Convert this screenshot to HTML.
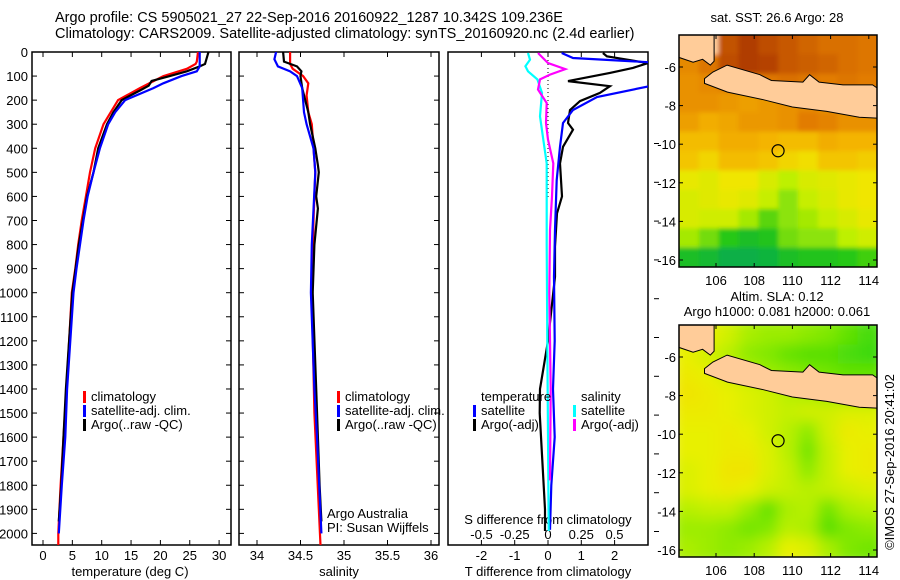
<!DOCTYPE html>
<html><head><meta charset="utf-8"><style>
html,body{margin:0;padding:0;background:#fff;}
svg{display:block;font-family:"Liberation Sans",sans-serif;}
text{font-size:13px;fill:#000;}
.ttl{font-size:14.5px;}
</style></head><body>
<svg id="fig" xmlns="http://www.w3.org/2000/svg" width="900" height="580" viewBox="0 0 900 580">
<defs>
<clipPath id="c1"><rect x="32" y="52" width="199" height="493"/></clipPath>
<clipPath id="c2"><rect x="239" y="52" width="200" height="493"/></clipPath>
<clipPath id="c3"><rect x="448" y="52" width="200" height="493"/></clipPath>
<clipPath id="cm1"><rect x="679" y="35" width="198" height="232"/></clipPath>
<clipPath id="cm2"><rect x="679" y="325" width="198" height="232"/></clipPath>
<filter id="blur" x="-5%" y="-5%" width="110%" height="110%"><feGaussianBlur stdDeviation="7"/></filter>
<filter id="blur1" x="-5%" y="-5%" width="110%" height="110%"><feGaussianBlur stdDeviation="2"/></filter>
</defs>
<text class="ttl" x="55" y="22">Argo profile: CS 5905021_27 22-Sep-2016 20160922_1287 10.342S 109.236E</text>
<text class="ttl" x="55" y="38">Climatology: CARS2009. Satellite-adjusted climatology: synTS_20160920.nc (2.4d earlier)</text>
<text x="777" y="22" text-anchor="middle">sat. SST: 26.6 Argo: 28</text>
<text x="777" y="301" text-anchor="middle">Altim. SLA: 0.12</text>
<text x="777" y="316" text-anchor="middle">Argo h1000: 0.081 h2000: 0.061</text>
<text x="0" y="0" transform="translate(894,462) rotate(-90)" text-anchor="middle">©IMOS 27-Sep-2016 20:41:02</text>
<g id="g1"></g><g id="g2"></g><g id="g3"></g><g id="gm1"></g><g id="gm2"></g>
</svg>
<script>
// ---------- data ----------
const tempDepth = [0,40,50,70,100,150,200,300,400,500,600,700,800,900,1000,1400,1600,1800,2000,2050];
const tempClim  = [26.4,26.2,26,24.5,20.5,16.5,12.8,10.3,8.9,8,7.3,6.6,6,5.5,4.9,4.0,3.5,3.0,2.6,2.6];
const satDepth  = [0,60,80,100,130,150,200,250,300,400,500,600,700,800,900,1000,1400,1600,1800,2000];
const tempSat   = [26.7,26.7,26.2,23.6,20.5,18.8,14,12.3,11.1,9.7,8.6,7.6,6.9,6.3,5.7,5.2,4.1,3.8,3.2,2.7];
const argoDepth = [0,50,60,80,100,120,140,160,200,250,300,400,500,600,800,1000,1400,1600,1800,1950];
const tempArgo  = [28.2,27.6,26.7,24.5,21.6,18.5,18,16.5,13.4,12,10.9,9.4,8.6,7.5,6.1,5.0,3.9,3.5,3.1,2.7];
const salClimDepth = [0,50,70,100,130,180,250,300,400,500,700,1000,1500,2050];
const salClim   = [34.38,34.38,34.41,34.53,34.59,34.57,34.59,34.63,34.65,34.67,34.65,34.63,34.66,34.73];
const salSatDepth = [0,30,60,80,100,150,250,300,400,500,800,1000,1400,1600,2000];
const salSat    = [34.22,34.2,34.24,34.38,34.46,34.52,34.54,34.57,34.65,34.67,34.63,34.62,34.66,34.69,34.74];
const salArgoDepth = [0,40,60,80,100,150,250,300,400,470,500,600,650,800,1000,1400,1800,1950];
const salArgo   = [34.3,34.31,34.46,34.51,34.5,34.52,34.59,34.61,34.67,34.7,34.71,34.68,34.7,34.66,34.64,34.68,34.72,34.74];
const dTsatDepth = [4,25,46,129,187,241,295,394,532,739,934,1200,1400,1600,1800,1985];
const dTsat      = [0.41,0.75,3.5,3.5,1.47,0.75,0.45,0.36,0.26,0.21,0.18,0.2,0.15,0.2,0.1,0.06];
const dTargoDepth = [4,18,46,66,87,121,142,170,204,241,295,323,394,463,600,670,808,934,1200,1400,1500,1900,1990];
const dTargo      = [1.65,1.77,3.0,2.55,1.86,0.6,1.86,1.56,0.96,0.66,0.6,0.75,0.45,0.36,0.42,0.27,0.21,0.21,0.0,-0.24,-0.25,-0.09,-0.09];
const dSsatDepth = [4,32,59,80,114,170,267,364,463,800,1200,1600,1990];
const dSsat      = [-0.15,-0.135,-0.17,-0.15,-0.08,-0.045,-0.06,-0.035,-0.01,-0.01,-0.005,0.0,0.005];
const dSargoDepth = [4,46,71,94,114,156,212,295,364,463,600,739,1000,1400,1780];
const dSargo      = [-0.075,0,0.13,0.015,-0.06,-0.075,-0.01,-0.015,0,0.04,0.03,0.015,0.01,0.02,0.015];
const depthTicks = [0,100,200,300,400,500,600,700,800,900,1000,1100,1200,1300,1400,1500,1600,1700,1800,1900,2000];
const tempTicks = [0,5,10,15,20,25,30];
const salTicks = [34,34.5,35,35.5,36];
const salTickLabels = ["34","34.5","35","35.5","36"];
const dTTicks = [-2,-1,0,1,2];
const dSTicks = [-0.5,-0.25,0,0.25,0.5];
const dSTickLabels = ["-0.5","-0.25","0","0.25","0.5"];
const lonTicks = [106,108,110,112,114];
const latTicks = [-6,-8,-10,-12,-14,-16];
const argoLon = 109.25, argoLat = -10.34;
// SST grid (deg C), rows north->south, 10 cols west->east; null = land
const sstGrid = [
 [null,null,28.9,29.3,29.0,28.8,28.6,28.4,28.4,28.3],
 [28.0,28.3,29.0,29.3,29.2,28.8,28.7,28.6,28.4,28.3],
 [27.9,28.0,28.1,28.2,28.3,28.4,28.3,28.2,28.3,28.2],
 [27.9,27.9,27.8,27.7,27.8,27.9,28.0,27.9,27.9,27.8],
 [27.7,27.5,27.6,27.8,27.8,27.9,28.2,28.1,27.9,27.9],
 [27.3,27.3,27.5,27.5,27.4,27.3,27.3,27.5,27.4,27.4],
 [27.2,27.0,27.3,27.3,27.2,27.0,26.9,27.2,27.2,27.1],
 [26.7,26.6,26.8,26.8,26.5,26.2,26.5,26.6,26.7,26.8],
 [26.5,26.6,26.7,26.6,26.3,26.0,26.3,26.5,26.7,26.8],
 [26.5,26.4,26.4,26.1,25.8,26.0,26.1,26.3,26.5,26.7],
 [26.1,25.9,25.6,25.4,25.5,25.9,26.0,26.0,26.2,26.4],
 [25.4,25.3,25.1,25.1,25.2,25.4,25.5,25.5,25.6,25.7]];
// SLA grid (relative 0 green -> 1 yellow)
const slaGrid = [
 [0.8,0.8,0.7,0.55,0.5,0.5,0.45,0.4,0.3,0.2],
 [0.8,0.7,0.6,0.45,0.4,0.3,0.25,0.25,0.2,0.15],
 [0.85,0.8,0.7,0.6,0.5,0.45,0.4,0.35,0.3,0.3],
 [0.9,0.85,0.8,0.75,0.7,0.6,0.55,0.5,0.4,0.4],
 [0.85,0.85,0.8,0.75,0.7,0.65,0.7,0.7,0.75,0.75],
 [0.8,0.8,0.85,0.8,0.7,0.6,0.45,0.7,0.85,0.8],
 [0.8,0.8,0.85,0.85,0.75,0.6,0.35,0.65,0.8,0.85],
 [0.75,0.8,0.9,0.9,0.75,0.65,0.45,0.65,0.8,0.85],
 [0.75,0.8,0.85,0.8,0.7,0.65,0.6,0.65,0.7,0.75],
 [0.6,0.65,0.65,0.5,0.3,0.55,0.6,0.35,0.55,0.6],
 [0.5,0.5,0.45,0.35,0.4,0.6,0.55,0.25,0.4,0.45],
 [0.55,0.5,0.45,0.5,0.6,0.8,0.75,0.55,0.4,0.35]];
// ---------- helpers ----------
const NS="http://www.w3.org/2000/svg";
function mk(tag,attrs,parent){const e=document.createElementNS(NS,tag);for(const k in attrs)e.setAttribute(k,attrs[k]);parent.appendChild(e);return e;}
const yD = d => 52 + d*0.2407;
const xT = t => 43 + t*5.87;
const xS = s => 257 + (s-34)*87;
const xDT = t => 548 + t*33.3;
const xDS = s => 548 + s*133;
const mLon = lon => 716 + (lon-106)*19.1;
const mLat1 = lat => 67 + (-6-lat)*19.3;
const mLat2 = lat => 357 + (-6-lat)*19.3;
function drawLine(g,vals,deps,xf,color,name){
  const pts=vals.map((v,i)=>xf(v).toFixed(1)+","+yD(deps[i]).toFixed(1)).join(" ");
  const p=mk("polyline",{points:pts,fill:"none",stroke:color,"stroke-width":2.2,"stroke-linejoin":"miter"},g);
  
  
}
function frame(g,x0,x1,name){
  const r=mk("rect",{x:x0,y:52,width:x1-x0,height:493,fill:"none",stroke:"#000","stroke-width":1.5},g);
  
  
  depthTicks.forEach(d=>{const y=yD(d);mk("line",{x1:x0,x2:x0+5,y1:y,y2:y,stroke:"#000"},g);mk("line",{x1:x1-5,x2:x1,y1:y,y2:y,stroke:"#000"},g);});
}
function xTicks(g,vals,labels,xf,y,name){
  vals.forEach((v,i)=>{const x=xf(v);
    mk("line",{x1:x,x2:x,y1:52,y2:57,stroke:"#000"},g);mk("line",{x1:x,x2:x,y1:540,y2:545,stroke:"#000"},g);
    const t=mk("text",{x:x,y:y,"text-anchor":"middle"},g);t.textContent=labels[i];
    
    });
}
function legend(g,x,y,color,label,name){
  mk("rect",{x:x,y:y-10,width:3,height:12,fill:color},g);
  const t=mk("text",{x:x+8,y:y},g);t.textContent=label;
  
  
}
// ---------- panel 1: temperature ----------
const g1=document.getElementById("g1");
frame(g1,32,231,"temperature-panel");
depthTicks.forEach(d=>{const t=mk("text",{x:28,y:yD(d)+5,"text-anchor":"end"},g1);t.textContent=d;
  
  });
xTicks(g1,tempTicks,tempTicks.map(String),xT,560,"temperature-tick-label");
let lab=mk("text",{x:130,y:576,"text-anchor":"middle"},g1);lab.textContent="temperature (deg C)";


const c1=mk("g",{"clip-path":"url(#c1)"},g1);
drawLine(c1,tempClim,tempDepth,xT,"#ff0000","temp-climatology-line");
drawLine(c1,tempArgo,argoDepth,xT,"#000000","temp-argo-line");
drawLine(c1,tempSat,satDepth,xT,"#0000ff","temp-satellite-line");
legend(g1,83,401,"#ff0000","climatology","legend-climatology");
legend(g1,83,415,"#0000ff","satellite-adj. clim.","legend-satellite-adj");
legend(g1,83,429,"#000000","Argo(..raw -QC)","legend-argo");
// ---------- panel 2: salinity ----------
const g2=document.getElementById("g2");
frame(g2,239,439,"salinity-panel");
xTicks(g2,salTicks,salTickLabels,xS,560,"salinity-tick-label");
lab=mk("text",{x:339,y:576,"text-anchor":"middle"},g2);lab.textContent="salinity";


const c2=mk("g",{"clip-path":"url(#c2)"},g2);
drawLine(c2,salClim,salClimDepth,xS,"#ff0000","sal-climatology-line");
drawLine(c2,salArgo,salArgoDepth,xS,"#000000","sal-argo-line");
drawLine(c2,salSat,salSatDepth,xS,"#0000ff","sal-satellite-line");
legend(g2,337,401,"#ff0000","climatology","legend-sal-climatology");
legend(g2,337,415,"#0000ff","satellite-adj. clim.","legend-sal-satellite-adj");
legend(g2,337,429,"#000000","Argo(..raw -QC)","legend-sal-argo");
lab=mk("text",{x:327,y:518},g2);lab.textContent="Argo Australia";


lab=mk("text",{x:327,y:532},g2);lab.textContent="PI: Susan Wijffels";


// ---------- panel 3: differences ----------
const g3=document.getElementById("g3");
const r3=mk("rect",{x:448,y:52,width:200,height:493,fill:"none",stroke:"#000","stroke-width":1.5},g3);


for(let y=143.5;y<552;y+=38.8){mk("line",{x1:654,x2:659,y1:y,y2:y,stroke:"#000"},g3);}
dTTicks.forEach(v=>{const x=xDT(v);mk("line",{x1:x,x2:x,y1:540,y2:545,stroke:"#000"},g3);mk("line",{x1:x,x2:x,y1:52,y2:57,stroke:"#000"},g3);
  const t=mk("text",{x:x,y:560,"text-anchor":"middle"},g3);t.textContent=String(v);
  
  });
dSTicks.forEach((v,i)=>{const x=xDS(v);
  const t=mk("text",{x:x,y:539,"text-anchor":"middle"},g3);t.textContent=dSTickLabels[i];
  
  });
lab=mk("text",{x:548,y:524,"text-anchor":"middle"},g3);lab.textContent="S difference from climatology";


lab=mk("text",{x:548,y:576,"text-anchor":"middle"},g3);lab.textContent="T difference from climatology";


const c3=mk("g",{"clip-path":"url(#c3)"},g3);
mk("line",{x1:548,x2:548,y1:52,y2:200,stroke:"#000","stroke-dasharray":"1,3"},c3);
drawLine(c3,dTargo,dTargoDepth,xDT,"#000000","tdiff-argo-line");
drawLine(c3,dTsat,dTsatDepth,xDT,"#0000ff","tdiff-satellite-line");
drawLine(c3,dSsat,dSsatDepth,xDS,"#00ffff","sdiff-satellite-line");
drawLine(c3,dSargo,dSargoDepth,xDS,"#ff00ff","sdiff-argo-line");
lab=mk("text",{x:481,y:401},g3);lab.textContent="temperature";


lab=mk("text",{x:581,y:401},g3);lab.textContent="salinity";


legend(g3,473,415,"#0000ff","satellite","legend-tdiff-satellite");
legend(g3,473,429,"#000000","Argo(-adj)","legend-tdiff-argo");
legend(g3,573,415,"#00ffff","satellite","legend-sdiff-satellite");
legend(g3,573,429,"#ff00ff","Argo(-adj)","legend-sdiff-argo");
// ---------- maps ----------
function lerpColor(stops,v){
  if(v<=stops[0][0])return "rgb("+stops[0][1].join(",")+")";
  for(let i=1;i<stops.length;i++){if(v<=stops[i][0]){const a=stops[i-1],b=stops[i],f=(v-a[0])/(b[0]-a[0]);
    return "rgb("+a[1].map((c,k)=>Math.round(c+(b[1][k]-c)*f)).join(",")+")";}}
  return "rgb("+stops[stops.length-1][1].join(",")+")";
}
const sstStops=[[25,[0,170,80]],[25.6,[40,200,20]],[26.2,[190,240,0]],[26.8,[240,230,0]],[27.4,[244,180,0]],[28.2,[226,124,0]],[29.3,[176,60,0]]];
const slaStops=[[0,[16,208,16]],[0.4,[128,232,0]],[0.6,[184,240,0]],[0.8,[232,240,0]],[1,[248,216,0]]];
const lon0=104.06,lon1=114.45,lat0=-4.34,lat1=-16.36;
const sumatra=[[104.06,-5.5],[104.8,-5.75],[105.3,-5.6],[105.7,-5.9],[105.9,-5.7],[105.9,-4.34],[104.06,-4.34]];
const java=[[105.4,-6.6],[105.84,-6.26],[106.58,-5.9],[108.3,-6.4],[108.9,-6.7],[110.55,-6.78],[110.9,-6.4],[111.4,-6.78],[112.65,-6.93],[114.2,-6.93],[114.45,-7.1],[114.45,-8.65],[113.5,-8.6],[111.8,-8.3],[110,-8.07],[108.5,-7.7],[106.6,-7.3],[105.4,-6.85]];
function drawMap(gid,clip,grid,stops,latf,top,name,filt){
  const g=document.getElementById(gid);
  const cg=mk("g",{"clip-path":"url("+clip+")"},g);
  const inner=mk("g",{filter:"url("+filt+")"},cg);
  const nr=grid.length,nc=grid[0].length;
  const cw=(lon1-lon0)/nc,ch=(lat0-lat1)/nr;
  grid.forEach((row,r)=>row.forEach((v,c)=>{
    const x=mLon(lon0+c*cw),y=latf(lat0-r*ch);
    const w=mLon(lon0+(c+1)*cw)-x,h=latf(lat0-(r+1)*ch)-y;
    const cell=mk("rect",{x:x-(c==0?8:0),y:y-(r==0?8:0),width:w+0.6+(c==0?8:0)+(c==nc-1?8:0),height:h+0.6+(r==0?8:0)+(r==nr-1?8:0),fill:v===null?"#ffcc99":lerpColor(stops,v)},inner);
    
    
  }));
  [sumatra,java].forEach((poly,i)=>{
    const p=mk("polygon",{points:poly.map(q=>mLon(q[0]).toFixed(1)+","+latf(q[1]).toFixed(1)).join(" "),fill:"#ffcc99",stroke:"#000","stroke-width":1},cg);
    
    
  });
  const ci=mk("circle",{cx:mLon(argoLon),cy:latf(argoLat),r:6,fill:"none",stroke:"#000","stroke-width":1.2},g);
  
  
  const fr=mk("rect",{x:679,y:top,width:198,height:232,fill:"none",stroke:"#000","stroke-width":1.5},g);
  
  
  lonTicks.forEach(v=>{const x=mLon(v);mk("line",{x1:x,x2:x,y1:top,y2:top+4,stroke:"#000"},g);mk("line",{x1:x,x2:x,y1:top+228,y2:top+232,stroke:"#000"},g);
    const t=mk("text",{x:x,y:top+250,"text-anchor":"middle"},g);t.textContent=v;
    
    });
  latTicks.forEach(v=>{const y=latf(v);mk("line",{x1:679,x2:683,y1:y,y2:y,stroke:"#000"},g);mk("line",{x1:873,x2:877,y1:y,y2:y,stroke:"#000"},g);
    const t=mk("text",{x:676,y:y+5,"text-anchor":"end"},g);t.textContent=v;
    
    });
}
drawMap("gm1","#cm1",sstGrid,sstStops,mLat1,35,"sst-map","#blur1");
drawMap("gm2","#cm2",slaGrid,slaStops,mLat2,325,"sla-map","#blur");
</script>
</body></html>
